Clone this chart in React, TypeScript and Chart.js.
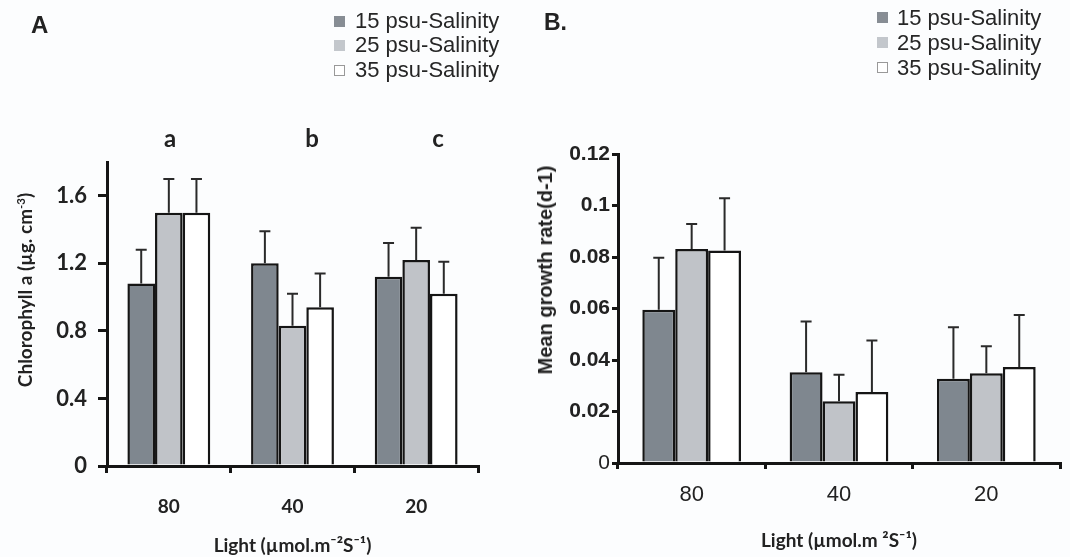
import React, { useEffect, useRef } from "react";
import { Chart, registerables } from "chart.js";

Chart.register(...registerables);

// ---------- data ----------
const CATEGORIES = ["80", "40", "20"];
const SERIES_LABELS = ["15 psu-Salinity", "25 psu-Salinity", "35 psu-Salinity"];

// Panel A: Chlorophyll a
const CHL_15 = [1.08, 1.2, 1.12];
const CHL_25 = [1.5, 0.83, 1.22];
const CHL_35 = [1.5, 0.94, 1.02];
const CHL_15_ERR = [0.2, 0.19, 0.2];
const CHL_25_ERR = [0.2, 0.19, 0.19];
const CHL_35_ERR = [0.2, 0.2, 0.19];
const CHL_TICKS = [0, 0.4, 0.8, 1.2, 1.6];
const CHL_TICK_LABELS = ["0", "0.4", "0.8", "1.2", "1.6"];
const CHL_LETTERS = ["a", "b", "c"];

// Panel B: mean growth rate
const GR_15 = [0.0595, 0.0352, 0.0327];
const GR_25 = [0.0831, 0.024, 0.0349];
const GR_35 = [0.0825, 0.0276, 0.0373];
const GR_15_ERR = [0.0202, 0.0198, 0.02];
const GR_25_ERR = [0.0097, 0.0103, 0.0104];
const GR_35_ERR = [0.0203, 0.02, 0.0202];
const GR_TICKS = [0, 0.02, 0.04, 0.06, 0.08, 0.1, 0.12];
const GR_TICK_LABELS = ["0", "0.02", "0.04", "0.06", "0.08", "0.1", "0.12"];

// ---------- styles ----------
const BAR_COLORS = ["#7f878f", "#c0c3c8", "#ffffff"];
const LEGEND_COLORS = ["#878d94", "#c3c7cc", "#ffffff"];
const INK = "#151515";
const ARIAL = "'Liberation Sans', Arial, sans-serif";
const LATO = "Lato, 'Open Sans', sans-serif";

const errorBarPlugin = {
  id: "errorBars",
  afterDatasetsDraw(chart: any, _args: any, opts: any) {
    const { ctx } = chart;
    const yScale = chart.scales.y;
    ctx.save();
    ctx.strokeStyle = opts.color;
    ctx.lineWidth = opts.width;
    chart.data.datasets.forEach((ds: any, i: number) => {
      const meta = chart.getDatasetMeta(i);
      const errs = opts.errors[i];
      meta.data.forEach((bar: any, j: number) => {
        const v = ds.data[j];
        const top = yScale.getPixelForValue(v + errs[j]);
        const x = bar.x;
        ctx.beginPath();
        ctx.moveTo(x, bar.y);
        ctx.lineTo(x, top);
        ctx.moveTo(x - opts.cap / 2, top);
        ctx.lineTo(x + opts.cap / 2, top);
        ctx.stroke();
      });
    });
    ctx.restore();
  },
};

type PanelProps = {
  left: number;
  width: number;
  series: number[][];
  errors: number[][];
  ticks: number[];
  tickLabels: string[];
  max: number;
  padRight: number;
  padTop: number;
  yWidth: number;
  xHeight: number;
  yTickFont: any;
  yTickLen: number;
  yTickPad: number;
  xTickFont: any;
  xTickLen: number;
  xTickPad: number;
  xTitle: string;
  xTitlePadBottom: number;
};

function BarPanel(p: PanelProps) {
  const ref = useRef<HTMLCanvasElement | null>(null);
  useEffect(() => {
    if (!ref.current) return;
    const grid = (len: number) => ({
      display: true,
      drawOnChartArea: false,
      drawTicks: true,
      tickLength: len,
      tickWidth: 3,
      tickColor: INK,
      color: INK,
      lineWidth: 3,
    });
    const chart = new Chart(ref.current, {
      type: "bar",
      data: {
        labels: CATEGORIES,
        datasets: p.series.map((d, i) => ({
          label: SERIES_LABELS[i],
          data: d,
          backgroundColor: BAR_COLORS[i],
          borderColor: INK,
          borderWidth: 2.5,
          categoryPercentage: 0.67,
          barPercentage: 1,
        })),
      },
      options: {
        responsive: false,
        animation: false,
        events: [],
        layout: { padding: { left: 0, top: p.padTop, right: p.padRight, bottom: 0 } },
        plugins: {
          legend: { display: false },
          tooltip: { enabled: false },
          errorBars: { errors: p.errors, color: "#2a2a2a", width: 2, cap: 11 },
        } as any,
        scales: {
          x: {
            grid: grid(p.xTickLen) as any,
            border: { display: true, width: 3, color: INK },
            ticks: { font: p.xTickFont, color: "#222", padding: p.xTickPad },
            title: {
              display: true,
              text: p.xTitle,
              font: { family: LATO, weight: "bold", size: 19 },
              color: "#222",
              padding: { top: 0, bottom: p.xTitlePadBottom },
            },
            afterFit: (s: any) => {
              s.height = p.xHeight;
            },
          },
          y: {
            min: 0,
            max: p.max,
            grid: grid(p.yTickLen) as any,
            border: { display: true, width: 3, color: INK },
            ticks: {
              font: p.yTickFont,
              color: "#222",
              padding: p.yTickPad,
              callback: (_v: any, i: number) => p.tickLabels[i],
            },
            afterBuildTicks: (s: any) => {
              s.ticks = p.ticks.map((v) => ({ value: v }));
            },
            afterFit: (s: any) => {
              s.width = p.yWidth;
            },
          },
        },
      },
      plugins: [errorBarPlugin],
    });
    return () => chart.destroy();
  }, []);
  return (
    <canvas
      ref={ref}
      width={p.width}
      height={557}
      style={{ position: "absolute", left: p.left, top: 0 }}
    />
  );
}

function Legend({ left, top, rowH, gap }: { left: number; top: number; rowH: number; gap: number }) {
  return (
    <div style={{ position: "absolute", left, top, font: `22px ${ARIAL}`, color: "#262626" }}>
      {SERIES_LABELS.map((l, i) => (
        <div key={i} style={{ display: "flex", alignItems: "center", height: rowH, whiteSpace: "nowrap" }}>
          <span
            style={{
              display: "inline-block",
              width: 11,
              height: 11,
              background: LEGEND_COLORS[i],
              border: i === 2 ? "1px solid #999" : "none",
              boxSizing: "border-box",
              marginRight: gap,
            }}
          />
          <span style={{ lineHeight: rowH + "px" }}>{l}</span>
        </div>
      ))}
    </div>
  );
}

export default function App() {
  const letterX = [170, 312, 438];
  return (
    <div
      style={{
        position: "fixed",
        left: 0,
        top: 0,
        width: 1070,
        height: 557,
        background: "#fcfdfe",
        overflow: "hidden",
      }}
    >
      <BarPanel
        left={0}
        width={540}
        series={[CHL_15, CHL_25, CHL_35]}
        errors={[CHL_15_ERR, CHL_25_ERR, CHL_35_ERR]}
        ticks={CHL_TICKS}
        tickLabels={CHL_TICK_LABELS}
        max={1.8}
        padRight={62}
        padTop={162}
        yWidth={107}
        xHeight={91}
        yTickFont={{ family: LATO, weight: "bold", size: 22 }}
        yTickLen={9}
        yTickPad={11}
        xTickFont={{ family: LATO, weight: "bold", size: 19 }}
        xTickLen={7}
        xTickPad={22}
        xTitle={"Light (µmol.m⁻²S⁻¹)"}
        xTitlePadBottom={0}
      />
      <BarPanel
        left={535}
        width={535}
        series={[GR_15, GR_25, GR_35]}
        errors={[GR_15_ERR, GR_25_ERR, GR_35_ERR]}
        ticks={GR_TICKS}
        tickLabels={GR_TICK_LABELS}
        max={0.12}
        padRight={10}
        padTop={154}
        yWidth={83}
        xHeight={94}
        yTickFont={(c: any) => ({
          family: ARIAL,
          weight: c.tick && c.tick.value === 0 ? "normal" : "bold",
          size: 21,
        })}
        yTickLen={6}
        yTickPad={2}
        xTickFont={{ family: ARIAL, weight: "normal", size: 22 }}
        xTickLen={6}
        xTickPad={13}
        xTitle={"Light (µmol.m ²S⁻¹)"}
        xTitlePadBottom={5}
      />

      {/* panel letters */}
      <div style={{ position: "absolute", left: 31, top: 13, font: `bold 24px ${ARIAL}`, lineHeight: "24px", color: "#222" }}>A</div>
      <div style={{ position: "absolute", left: 544, top: 10, font: `bold 23px ${ARIAL}`, lineHeight: "24px", color: "#222" }}>B.</div>

      {/* legends */}
      <Legend left={334} top={8.75} rowH={24.5} gap={10} />
      <Legend left={877} top={4.5} rowH={25} gap={9} />

      {/* significance letters */}
      {CHL_LETTERS.map((l, i) => (
        <div
          key={l}
          style={{
            position: "absolute",
            left: letterX[i],
            top: 126,
            transform: "translateX(-50%)",
            font: `bold 24px ${LATO}`,
            lineHeight: "24px",
            color: "#222",
          }}
        >
          {l}
        </div>
      ))}

      {/* y titles */}
      <div
        style={{
          position: "absolute",
          left: 25,
          top: 290,
          transform: "translate(-50%, -50%) rotate(-90deg)",
          font: `bold 19px ${LATO}`,
          color: "#222",
          whiteSpace: "nowrap",
          lineHeight: "22px",
        }}
      >
        Chlorophyll a (µg. cm<sup style={{ fontSize: "0.6em", lineHeight: 0 }}>-3</sup>)
      </div>
      <div
        style={{
          position: "absolute",
          left: 545,
          top: 270,
          transform: "translate(-50%, -50%) rotate(-90deg)",
          font: `bold 20px ${ARIAL}`,
          color: "#222",
          whiteSpace: "nowrap",
          lineHeight: "22px",
        }}
      >
        Mean growth rate(d-1)
      </div>
    </div>
  );
}
